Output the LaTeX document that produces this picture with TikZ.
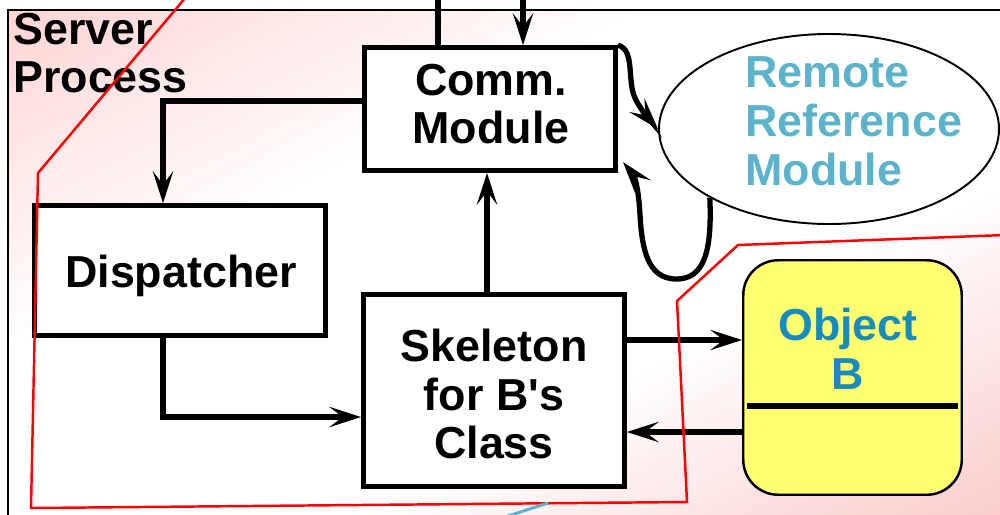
\documentclass[tikz,border=0pt]{standalone}
\usepackage{fontspec}
\newfontfamily\labelfont{Liberation Sans}
\usetikzlibrary{arrows.meta,shapes.geometric}
\definecolor{rrmblue}{RGB}{92,180,204}
\definecolor{objblue}{RGB}{25,140,190}
\definecolor{objyellow}{RGB}{255,255,112}
\definecolor{pinkA}{RGB}{255,212,212}
\definecolor{pinkB}{RGB}{250,202,202}
% pink corners fading to a white middle band
\pgfdeclareverticalshading{procbg}{100bp}{color(0bp)=(pinkB); color(25bp)=(pinkB);
  color(42bp)=(white); color(59bp)=(white); color(75bp)=(pinkA); color(100bp)=(pinkA)}
\begin{document}
\begin{tikzpicture}[x=0.2mm,y=-0.2mm,
  font=\labelfont\bfseries\fontsize{25.5}{27.8}\selectfont,
  box/.style={draw, line width=3pt, fill=white, inner sep=0pt},
  lbl/.style={inner sep=0pt, align=center},
  wire/.style={line width=3pt},
  arr/.style={wire, -{Stealth[length=18pt,width=11.5pt,inset=7.5pt]}},
  thinred/.style={draw=red, line width=1.4pt, line join=miter}]
\useasboundingbox (0,0) rectangle (1000,514);
\clip (0,0) rectangle (1000,514);

% process background: diagonal gradient, then the frame
\begin{scope}
  \clip (8,10) rectangle (1010,530);
  \begin{scope}[transform canvas={shift={(509,270)}, rotate=27.4}]
    \shade[shading=procbg] (-750,-461) rectangle (750,461);
  \end{scope}
\end{scope}
\draw[line width=1.4pt] (1010,10) -- (8,10) -- (8,530);

% boxes
\node[box, minimum width=50.1mm, minimum height=24.5mm] (comm) at (490,109) {};
\node[box, minimum width=58.1mm, minimum height=25.9mm] (disp) at (180,270.5) {};
\node[box, minimum width=52.1mm, minimum height=38.3mm] (skel) at (494,390.5) {};
\node[draw, ellipse, line width=1.1pt, fill=white, inner sep=0pt,
      minimum width=68mm, minimum height=38mm] (rrm) at (829,129) {};
\node[draw, line width=1.4pt, fill=objyellow, rounded corners=7mm, inner sep=0pt,
      minimum width=43.7mm, minimum height=46.9mm] (objb) at (852.5,377.5) {};

% straight connectors
\coordinate (in1) at (438,-5);
\coordinate (in2) at (523,-5);
\draw[wire] (in1) -- (in1 |- comm.north);
\draw[arr] (in2) -- (in2 |- comm.north);
\coordinate (d1) at (163,101);
\draw[arr] (d1 -| comm.west) -- (d1) -- (d1 |- disp.north);
\coordinate (d2) at (163,417);
\draw[arr] (d2 |- disp.south) -- (d2) -- (d2 -| skel.west);
\coordinate (d3) at (487,0);
\draw[arr] (d3 |- skel.north) -- (d3 |- comm.south);
\coordinate (d4) at (0,340);
\draw[arr] (d4 -| skel.east) -- (d4 -| objb.west);
\coordinate (d5) at (0,432);
\draw[arr] (d5 -| objb.west) -- (d5 -| skel.east);

% divider inside Object B
\coordinate (dv) at (0,406);
\draw[line width=3.4pt, shorten <=1mm, shorten >=1mm] (dv -| objb.west) -- (dv -| objb.east);

% curved connectors between Comm. Module and Remote Reference Module
\draw[arr] (comm.north east) .. controls (636,50) and (626,82) .. (636,100)
  .. controls (642,112) and (650,120) .. (rrm.west);
\coordinate (c2) at (623,162);
\draw[arr] (rrm.210) .. controls (712,250) and (705,280) .. (675,279)
  .. controls (648,278) and (642,250) .. (640,215)
  .. controls (639,195) and (636,178) .. (c2);

% labels
\node[lbl, anchor=west, align=left] (srv) at (13,53) {Server\\Process};
\node[lbl] (commlbl) at (491,104) {Comm.\\Module};
\node[lbl] (displbl) at (181,276) {Dispatcher};
\node[lbl] (skellbl) at (494,394) {Skeleton\\for B's\\Class};
\node[lbl, anchor=west, align=left, text=rrmblue] (rrmlbl) at (745,121) {Remote\\Reference\\Module};
\node[lbl, text=objblue] (objlbl) at (848,349) {Object\\B};

% region outlines
\draw[thinred] (186,-3) -- (38,173) -- (31,508) -- (687,502) -- (677,301)
  -- (738,245) -- (1005,235);
\draw[rrmblue, line width=1.7pt] (505,517) -- (548,503);
\end{tikzpicture}
\end{document}
